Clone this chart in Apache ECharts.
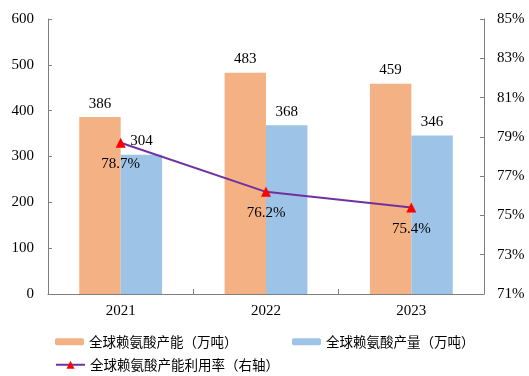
<!DOCTYPE html>
<html><head><meta charset="utf-8">
<script src="https://cdn.jsdelivr.net/npm/echarts@6/dist/echarts.min.js"></script>
<style>html,body{margin:0;padding:0;background:#fff}#c{width:529px;height:376px}</style>
</head><body><div id="c"></div>
<script>
const categories = ['2021', '2022', '2023'];
const capacity = [386, 483, 459];
const output = [304, 368, 346];
const utilization = [78.7, 76.2, 75.4];
const leftTicks = [0, 100, 200, 300, 400, 500, 600];
const rightTicks = [71, 73, 75, 77, 79, 81, 83, 85];
const names = ['全球赖氨酸产能（万吨）', '全球赖氨酸产量（万吨）', '全球赖氨酸产能利用率（右轴）'];

const numFont = {fontFamily: '"Liberation Serif", "Times New Roman", serif', fontSize: 15, color: '#000'};
const legText = {fontFamily: '"Noto Sans CJK SC", sans-serif', fontSize: 13.5, color: '#000'};
const axisLine = {show: true, lineStyle: {color: '#7f7f7f', width: 1}};
function leg(name, left, top) {
  return {left: left, top: top, itemWidth: 29, itemHeight: 7, itemGap: 5,
    textStyle: legText, data: [{name: name}]};
}
const chart = echarts.init(document.getElementById('c'), null, {renderer: 'canvas'});
chart.setOption({
  animation: false,
  backgroundColor: '#fff',
  grid: {left: 48, right: 45, top: 19, bottom: 82, containLabel: false},
  legend: [
    leg(names[0], 50, 330),
    leg(names[1], 287, 330),
    Object.assign(leg(names[2], 50, 353), {itemHeight: 10})
  ],
  xAxis: {
    type: 'category', data: categories,
    axisLine: axisLine,
    axisTick: {show: true, inside: true, length: 5, lineStyle: {color: '#7f7f7f'}},
    axisLabel: Object.assign({margin: 10}, numFont)
  },
  yAxis: [
    {type: 'value', min: 0, max: 600, interval: 100,
     axisLine: axisLine,
     axisTick: {show: true, inside: true, length: 4, lineStyle: {color: '#7f7f7f'}},
     splitLine: {show: false},
     axisLabel: Object.assign({margin: 14}, numFont)},
    {type: 'value', min: 71, max: 85, interval: 2, position: 'right',
     axisLine: axisLine,
     axisTick: {show: true, inside: true, length: 4, lineStyle: {color: '#7f7f7f'}},
     splitLine: {show: false},
     axisLabel: Object.assign({margin: 13, formatter: v => v + '%'}, numFont)}
  ],
  series: [
    {name: names[0], type: 'bar', data: capacity, barGap: '0%', barCategoryGap: '43%',
     itemStyle: {color: '#F4B183'},
     label: Object.assign({show: true, position: 'top', distance: 6}, numFont)},
    {name: names[1], type: 'bar', data: output,
     itemStyle: {color: '#9DC3E6'},
     label: Object.assign({show: true, position: 'top', distance: 6}, numFont)},
    {name: names[2], type: 'line', yAxisIndex: 1, data: utilization,
     symbol: 'triangle', symbolSize: 10,
     lineStyle: {color: '#7030A0', width: 2},
     itemStyle: {color: '#FF0000'},
     label: Object.assign({show: true, position: 'bottom', distance: 9, formatter: p => p.value + '%'}, numFont),
     z: 5}
  ]
});
</script></body></html>
